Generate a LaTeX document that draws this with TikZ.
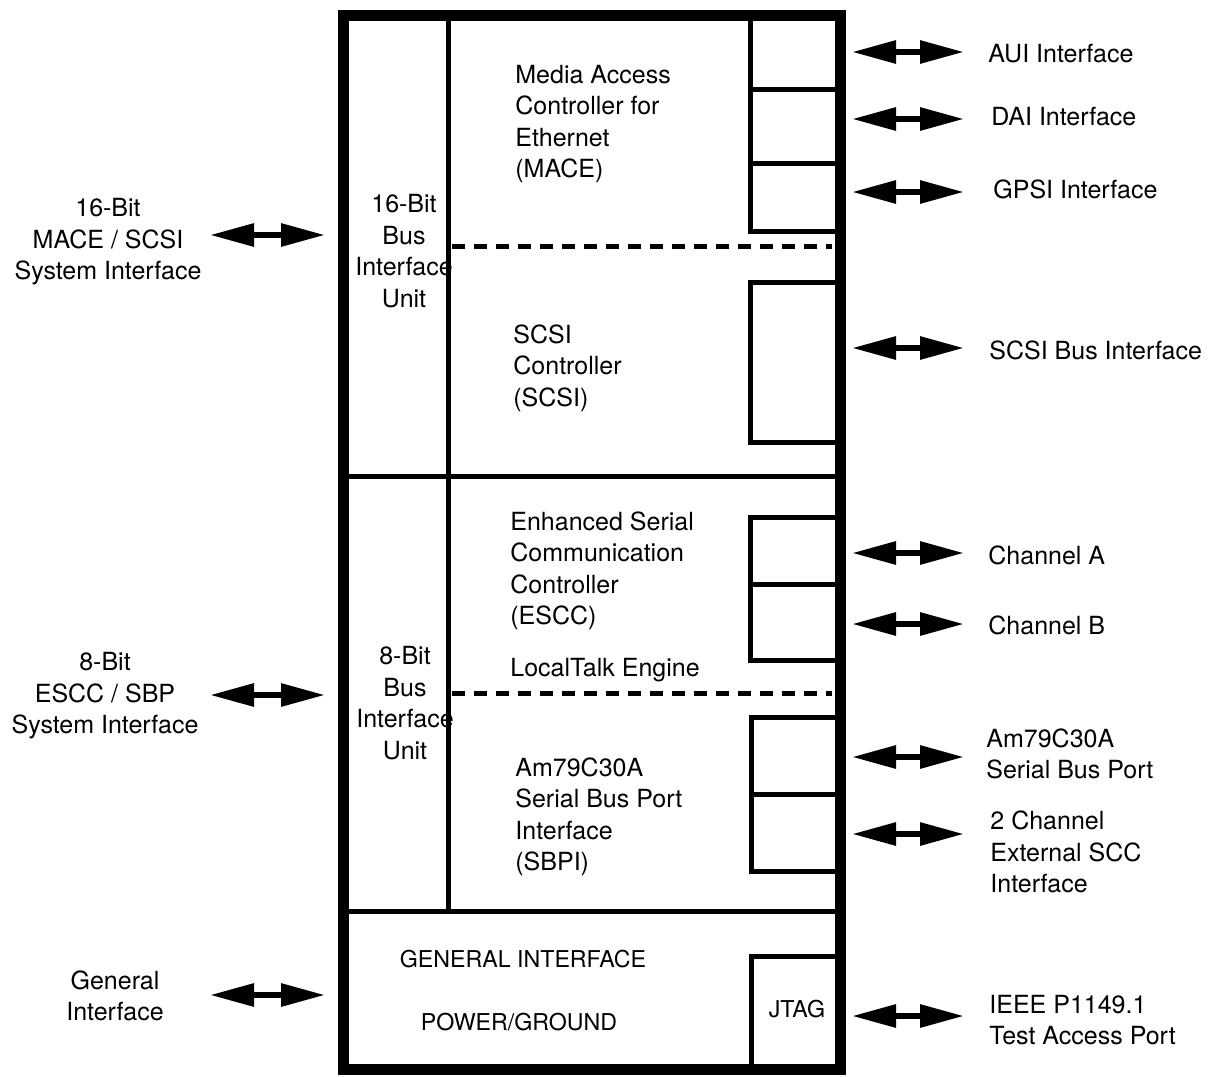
\documentclass[tikz,border=0pt]{standalone}
\usepackage{fontspec}
\setmainfont{TeX Gyre Heros}
\usetikzlibrary{arrows.meta}

\begin{document}
\begin{tikzpicture}[x=0.5pt,y=-0.5pt,
  lbl/.style={inner sep=0pt,font=\fontsize{12.5}{15.75}\selectfont},
  leftlbl/.style={lbl,anchor=west,align=left},
  midlbl/.style={lbl,align=center},
  capslbl/.style={inner sep=0pt,font=\fontsize{11.6}{14}\selectfont},
  chipline/.style={line width=5.5pt},
  unitline/.style={line width=2.5pt},
  splitline/.style={line width=2.5pt,dash pattern=on 6.5pt off 4.5pt},
  biarrow/.style={line width=3pt,{Triangle[length=22pt,width=11pt]}-{Triangle[length=22pt,width=11pt]}}]
\useasboundingbox (0,0) rectangle (1209,1076);
% text inside the chip
\node[midlbl] (biu16) at (404,251) {16-Bit\\Bus\\Interface\\Unit};
\node[midlbl] (biu8) at (405,703) {8-Bit\\Bus\\Interface\\Unit};
\node[leftlbl] (mace) at (515,124) {Media Access\\Controller for\\Ethernet\\(MACE)};
\node[leftlbl] (scsictl) at (513,368) {SCSI\\Controller\\(SCSI)};
\node[leftlbl] (escc) at (510,571) {Enhanced Serial\\Communication\\Controller\\(ESCC)};
\node[leftlbl] (ltalk) at (510,670) {LocalTalk Engine};
\node[leftlbl] (sbpi) at (515,817) {Am79C30A\\Serial Bus Port\\Interface\\(SBPI)};
\node[capslbl] (genif) at (523,959) {GENERAL INTERFACE};
\node[capslbl] (pwr) at (519,1022) {POWER/GROUND};
\node[capslbl] (jtag) at (797,1009) {JTAG};
% chip outline and units
\draw[chipline] (343,15) rectangle (840,1069);
\draw[unitline] (448,15) -- (448,911);
\draw[unitline] (343,476) -- (840,476);
\draw[unitline] (343,911) -- (840,911);
\draw[unitline] (750,15) -- (750,231) -- (840,231);
\foreach \y in {89,163} \draw[unitline] (750,\y) -- (840,\y);
\draw[unitline] (840,282) -- (750,282) -- (750,442) -- (840,442);
\draw[unitline] (840,517) -- (750,517) -- (750,660) -- (840,660);
\draw[unitline] (750,584) -- (840,584);
\draw[unitline] (840,717) -- (751,717) -- (751,871) -- (840,871);
\draw[unitline] (751,794) -- (840,794);
\draw[unitline] (840,956) -- (751,956) -- (751,1069);
\foreach \y in {246,693} \draw[splitline] (452,\y) -- (832,\y);
% outside labels
\node[midlbl] (sys16) at (108,242) {16-Bit\\MACE / SCSI\\System Interface};
\node[midlbl] (sys8) at (105,696) {8-Bit\\ESCC / SBP\\System Interface};
\node[midlbl] (genl) at (115,996) {General\\Interface};
\node[leftlbl] (aui) at (988,54) {AUI Interface};
\node[leftlbl] (dai) at (991,117) {DAI Interface};
\node[leftlbl] (gpsi) at (993,189) {GPSI Interface};
\node[leftlbl] (scsi) at (989,350) {SCSI Bus Interface};
\node[leftlbl] (cha) at (988,555) {Channel A};
\node[leftlbl] (chb) at (988,625) {Channel B};
\node[leftlbl] (sbp) at (986,754) {Am79C30A\\Serial Bus Port};
\node[leftlbl] (scc) at (990,852) {2 Channel\\External SCC\\Interface};
\node[leftlbl] (tap) at (989,1020) {IEEE P1149.1\\Test Access Port};
% arrows
\foreach \n/\y in {aui/52, dai/119, gpsi/192, scsi/348, cha/553, chb/624, sbp/757, scc/834, tap/1016}{
  \coordinate (\n-a) at (852,\y); \coordinate (\n-b) at (964,\y);
  \draw[biarrow] (\n-a) -- (\n-b);}
\foreach \n/\y in {sys16/235, sys8/695, genl/995}{
  \coordinate (\n-a) at (210,\y); \coordinate (\n-b) at (325,\y);
  \draw[biarrow] (\n-a) -- (\n-b);}
\end{tikzpicture}
\end{document}
